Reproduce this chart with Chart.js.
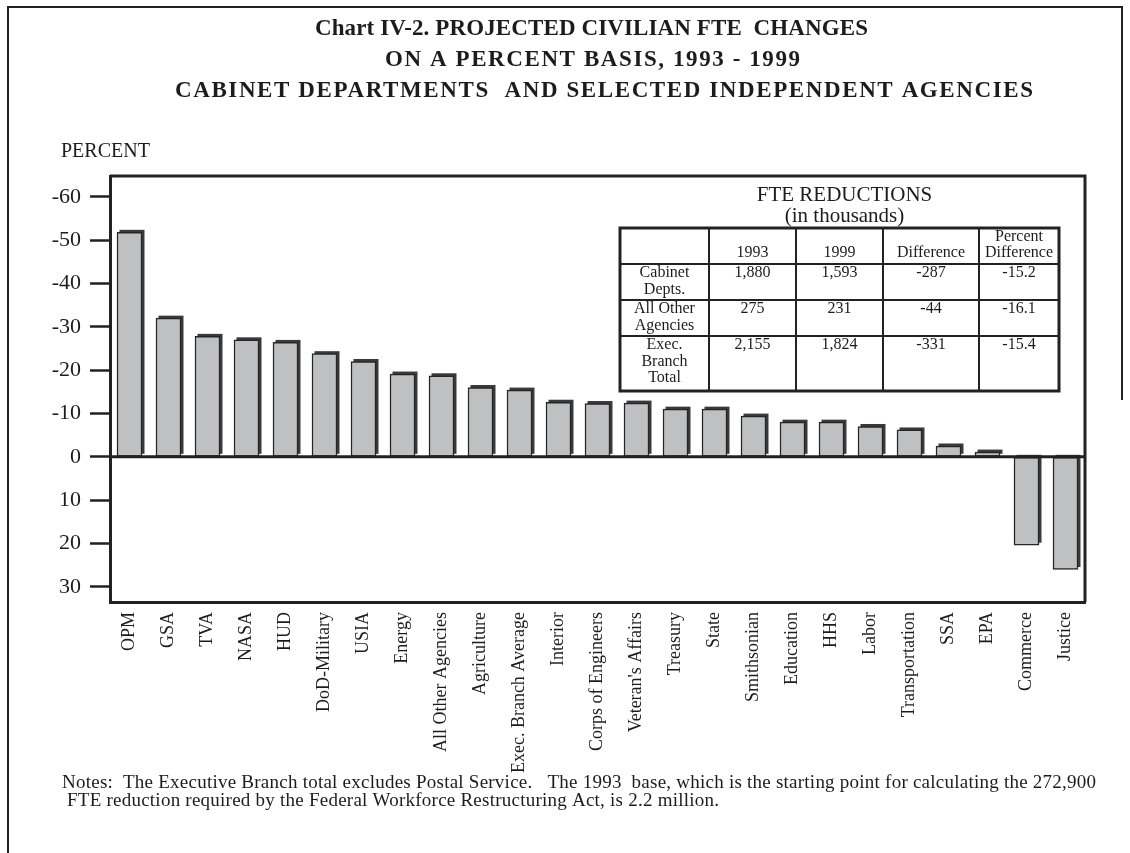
<!DOCTYPE html>
<html>
<head>
<meta charset="utf-8">
<script src="https://cdn.jsdelivr.net/npm/chart.js@4.4.1/dist/chart.umd.min.js"></script>
<style>
html,body{margin:0;padding:0;background:#fff;}
canvas{display:block;}
</style>
</head>
<body>
<canvas id="c" width="1130" height="853"></canvas>
<script>
// ---- data ----
const categories = ['OPM','GSA','TVA','NASA','HUD','DoD-Military','USIA','Energy','All Other Agencies','Agriculture','Exec. Branch Average','Interior','Corps of Engineers',"Veteran's Affairs",'Treasury','State','Smithsonian','Education','HHS','Labor','Transportation','SSA','EPA','Commerce','Justice'];
const percentChange = [-51.8,-32.0,-27.8,-27.0,-26.4,-23.8,-22.0,-19.1,-18.7,-16.0,-15.4,-12.6,-12.3,-12.4,-11.0,-11.0,-9.4,-8.0,-8.0,-7.0,-6.2,-2.5,-1.1,20.4,26.0];
const yTickValues = [-60,-50,-40,-30,-20,-10,0,10,20,30];
const titleLines = ['Chart IV-2. PROJECTED CIVILIAN FTE  CHANGES','ON A PERCENT BASIS, 1993 - 1999','CABINET DEPARTMENTS  AND SELECTED INDEPENDENT AGENCIES'];
const yAxisLabel = 'PERCENT';
const tableTitle = ['FTE REDUCTIONS','(in thousands)'];
const tableHeader = [[], ['1993'], ['1999'], ['Difference'], ['Percent','Difference']];
const tableRowLabels = [['Cabinet','Depts.'],['All Other','Agencies'],['Exec.','Branch','Total']];
const fte1993 = ['1,880','275','2,155'];
const fte1999 = ['1,593','231','1,824'];
const fteDifference = ['-287','-44','-331'];
const ftePercentDifference = ['-15.2','-16.1','-15.4'];
const notesLines = ['Notes:  The Executive Branch total excludes Postal Service.   The 1993  base, which is the starting point for calculating the 272,900',' FTE reduction required by the Federal Workforce Restructuring Act, is 2.2 million.'];

const SERIF = '"Liberation Serif", "Times New Roman", Times, serif';
const INK = '#1c1c1c';

// draw text spread/condensed so that it spans a given width
function fitText(ctx, text, x, y, targetWidth) {
  ctx.save();
  ctx.textAlign = 'left';
  const w0 = ctx.measureText(text).width;
  const n = Math.max(1, text.length - 1);
  if ('letterSpacing' in ctx) {
    ctx.letterSpacing = ((targetWidth - w0) / n) + 'px';
    ctx.fillText(text, x, y);
  } else {
    ctx.translate(x, y);
    ctx.scale(targetWidth / w0, 1);
    ctx.fillText(text, 0, 0);
  }
  ctx.restore();
}

// bar depth (3D look) + zero line
const depthPlugin = {
  id: 'depth',
  beforeDatasetsDraw(chart) {
    const ctx = chart.ctx;
    const meta = chart.getDatasetMeta(0);
    ctx.save();
    meta.data.forEach(el => {
      const p = el.getProps(['x','y','base','width'], true);
      const left = p.x - p.width / 2;
      const top = Math.min(p.y, p.base);
      const bottom = Math.max(p.y, p.base);
      ctx.fillStyle = '#3a3a3a';
      ctx.fillRect(left + 2.5, top - 2.5, p.width, bottom - top);
    });
    ctx.restore();
  },
  afterDatasetsDraw(chart) {
    const ctx = chart.ctx;
    const a = chart.chartArea;
    const y0 = chart.scales.y.getPixelForValue(0);
    ctx.save();
    ctx.strokeStyle = '#222';
    ctx.lineWidth = 3;
    ctx.beginPath();
    ctx.moveTo(a.left, y0);
    ctx.lineTo(a.right, y0);
    ctx.stroke();
    ctx.restore();
  }
};

// frame, titles, table, notes
const decorPlugin = {
  id: 'decor',
  afterDraw(chart) {
    const ctx = chart.ctx;
    const a = chart.chartArea;
    ctx.save();
    // outer page frame
    ctx.strokeStyle = '#222';
    ctx.lineWidth = 2;
    ctx.beginPath();
    ctx.moveTo(8, 853);
    ctx.lineTo(8, 7);
    ctx.lineTo(1122, 7);
    ctx.lineTo(1122, 400);
    ctx.stroke();

    // plot frame top/right
    ctx.lineWidth = 3;
    ctx.beginPath();
    ctx.moveTo(a.left, a.top);
    ctx.lineTo(a.right, a.top);
    ctx.lineTo(a.right, a.bottom);
    ctx.stroke();

    // title
    ctx.fillStyle = INK;
    ctx.textBaseline = 'alphabetic';
    ctx.font = 'bold 23px ' + SERIF;
    const tb = [35, 66, 97];
    const tSpan = [[315, 868], [385, 800], [175, 1033]];
    titleLines.forEach((t, i) => fitText(ctx, t, tSpan[i][0], tb[i], tSpan[i][1] - tSpan[i][0]));

    // y axis label
    ctx.textAlign = 'left';
    ctx.font = '20px ' + SERIF;
    ctx.fillText(yAxisLabel, 61, 157);

    // notes
    ctx.font = '19px ' + SERIF;
    const w0 = ctx.measureText(notesLines[0]).width;
    const ls = (1034 - w0) / (notesLines[0].length - 1);
    ctx.save();
    if ('letterSpacing' in ctx) ctx.letterSpacing = ls + 'px';
    ctx.fillText(notesLines[0], 62, 788);
    ctx.fillText(notesLines[1], 62, 806);
    ctx.restore();

    // table
    const colX = [620, 709, 796, 883, 979, 1059];
    const rowY = [228, 264, 300, 336, 391];
    ctx.textAlign = 'center';
    ctx.textBaseline = 'middle';
    ctx.font = '21px ' + SERIF;
    const tcx = (colX[0] + colX[5]) / 2 + 5;
    ctx.fillText(tableTitle[0], tcx, 195);
    ctx.fillText(tableTitle[1], tcx, 216);

    ctx.strokeStyle = '#222';
    ctx.lineWidth = 2;
    ctx.beginPath();
    for (let i = 1; i < colX.length - 1; i++) {
      ctx.moveTo(colX[i], rowY[0]); ctx.lineTo(colX[i], rowY[rowY.length - 1]);
    }
    for (let j = 1; j < rowY.length - 1; j++) {
      ctx.moveTo(colX[0], rowY[j]); ctx.lineTo(colX[5], rowY[j]);
    }
    ctx.stroke();
    ctx.lineWidth = 3;
    ctx.strokeRect(colX[0], rowY[0], colX[5] - colX[0], rowY[4] - rowY[0]);

    ctx.font = '16px ' + SERIF;
    const lh = 16.6;
    tableHeader.forEach((lines, c) => {
      const cx = (colX[c] + colX[c + 1]) / 2;
      const n = lines.length;
      lines.forEach((t, k) => ctx.fillText(t, cx, 253 - (n - 1 - k) * lh));
    });
    const cols = [fte1993, fte1999, fteDifference, ftePercentDifference];
    tableRowLabels.forEach((lines, r) => {
      const y = rowY[r + 1] + 9;
      const cx0 = (colX[0] + colX[1]) / 2;
      lines.forEach((t, k) => ctx.fillText(t, cx0, y + k * lh));
      cols.forEach((arr, c) => {
        const cx = (colX[c + 1] + colX[c + 2]) / 2;
        ctx.fillText(arr[r], cx, y);
      });
    });
    ctx.restore();
  }
};

new Chart(document.getElementById('c'), {
  type: 'bar',
  data: {
    labels: categories,
    datasets: [{
      data: percentChange,
      backgroundColor: '#bfc0c2',
      borderColor: '#262626',
      borderWidth: 1.5,
      borderSkipped: false,
      barThickness: 25
    }]
  },
  options: {
    responsive: false,
    devicePixelRatio: 1,
    animation: false,
    layout: { padding: { top: 176, left: 0, right: 45, bottom: 0 } },
    plugins: { legend: { display: false }, tooltip: { enabled: false }, title: { display: false } },
    scales: {
      x: {
        type: 'category',
        grid: { display: false, drawTicks: false },
        border: { display: true, color: '#222', width: 3 },
        ticks: {
          autoSkip: false, maxRotation: 90, minRotation: 90, padding: 10,
          color: INK, font: { family: SERIF, size: 18 }
        },
        afterFit(scale) { scale.height = 251; }
      },
      y: {
        type: 'linear',
        reverse: true,
        min: -64.8,
        max: 33.5,
        afterBuildTicks(scale) { scale.ticks = yTickValues.map(v => ({ value: v })); },
        grid: { drawOnChartArea: false, drawTicks: true, tickLength: 20, tickWidth: 2.5, tickColor: '#222', color: '#222' },
        border: { display: true, color: '#222', width: 3 },
        ticks: {
          padding: 9, color: INK, font: { family: SERIF, size: 22 },
          callback: v => String(v)
        },
        afterFit(scale) { scale.width = 110; }
      }
    }
  },
  plugins: [depthPlugin, decorPlugin]
});
</script>
</body>
</html>
